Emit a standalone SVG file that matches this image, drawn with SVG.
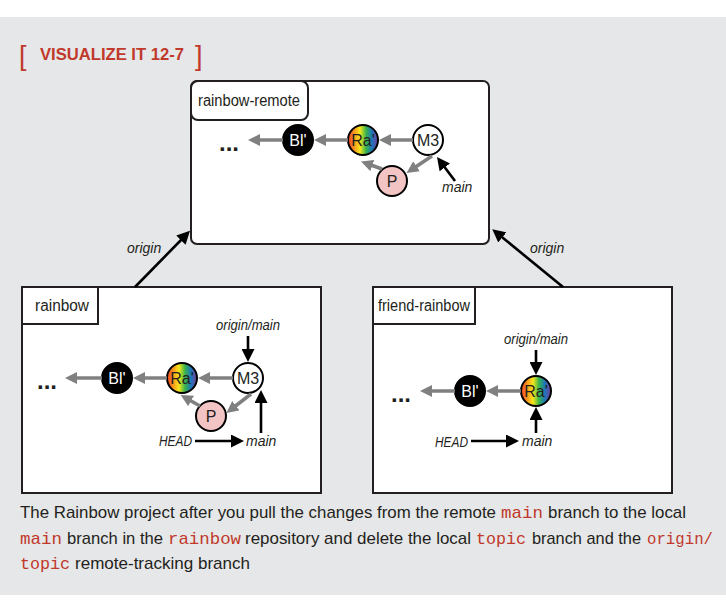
<svg xmlns="http://www.w3.org/2000/svg" width="726" height="602" viewBox="0 0 726 602">
<defs>
<style>
.box{fill:#fff;stroke:#231f20;stroke-width:2}
.lbl{font-family:"Liberation Sans Narrow","Liberation Sans",sans-serif;font-size:16px;fill:#231f20}
.dots{font-family:"Liberation Sans",sans-serif;font-size:24px;font-weight:bold;fill:#231f20}
.ref{font-family:"Liberation Sans Narrow","Liberation Sans",sans-serif;font-size:14px;font-style:italic;fill:#231f20}
.nt{font-family:"Liberation Sans Narrow","Liberation Sans",sans-serif;font-size:16px;text-anchor:middle}
.cap{font-family:"Liberation Sans Narrow","Liberation Sans",sans-serif;font-size:17px;fill:#231f20}
.code{font-family:"Liberation Mono",monospace;font-size:17px;fill:#c0392b}
.g{stroke:#808080;stroke-width:3.5;fill:none;marker-end:url(#ga)}
.b{stroke:#000;stroke-width:2.6;fill:none;marker-end:url(#ba)}
.ring{stroke:#000;stroke-width:2}
</style>
<marker id="ga" markerUnits="userSpaceOnUse" markerWidth="12" markerHeight="12" refX="3" refY="6" orient="auto"><path d="M0,0 L12,6 L0,12 z" fill="#808080"/></marker>
<marker id="ba" markerUnits="userSpaceOnUse" markerWidth="13" markerHeight="13" refX="3" refY="6.5" orient="auto"><path d="M0,0 L13,6.5 L0,13 z" fill="#000"/></marker>
<linearGradient id="rb" x1="0" y1="0" x2="1" y2="0">
<stop offset="0" stop-color="#ee4023"/>
<stop offset="0.2" stop-color="#f7941d"/>
<stop offset="0.4" stop-color="#f6e71b"/>
<stop offset="0.6" stop-color="#39b54a"/>
<stop offset="0.8" stop-color="#1c75bc"/>
<stop offset="1" stop-color="#7c3f98"/>
</linearGradient>
</defs>
<rect x="0" y="0" width="726" height="602" fill="#fff"/>
<rect x="0" y="17" width="726" height="578" fill="#e6e7e8"/>

<g id="title">
<text x="19" y="65" font-family="Liberation Sans,sans-serif" font-size="27" fill="#c0392b">[</text>
<text x="40" y="60" font-family="Liberation Sans,sans-serif" font-size="17" font-weight="bold" fill="#c0392b" textLength="144" lengthAdjust="spacingAndGlyphs">VISUALIZE IT 12-7</text>
<text x="195" y="65" font-family="Liberation Sans,sans-serif" font-size="27" fill="#c0392b">]</text>
</g>

<g id="rainbow-remote">
<rect class="box" x="191" y="81" width="298" height="163" rx="6"/>
<rect class="box" x="191" y="81" width="117" height="39" rx="7"/>
<text class="lbl" x="198" y="106" textLength="102" lengthAdjust="spacingAndGlyphs">rainbow-remote</text>
<text class="dots" x="219" y="151">...</text>
<g id="r-Bl"><circle class="ring" cx="298" cy="140" r="15" fill="#000"/><text class="nt" x="298" y="146" fill="#fff">Bl'</text></g>
<g id="r-Ra"><circle class="ring" cx="363" cy="140" r="15" fill="url(#rb)"/><text class="nt" x="363" y="146" fill="#231f20">Ra'</text></g>
<g id="r-M3"><circle class="ring" cx="428" cy="140" r="15" fill="#fff"/><text class="nt" x="428" y="146" fill="#231f20">M3</text></g>
<g id="r-P"><circle class="ring" cx="392" cy="181" r="15" fill="#f2c4c4"/><text class="nt" x="392" y="187" fill="#231f20">P</text></g>
<text class="ref" x="442" y="192">main</text>
</g>

<g id="rainbow">
<rect class="box" x="22" y="287" width="299" height="206"/>
<rect class="box" x="22" y="287" width="76" height="37"/>
<text class="lbl" x="35" y="311" textLength="54" lengthAdjust="spacingAndGlyphs">rainbow</text>
<text class="dots" x="37" y="389">...</text>
<g id="a-Bl"><circle class="ring" cx="117" cy="378" r="15" fill="#000"/><text class="nt" x="117" y="384" fill="#fff">Bl'</text></g>
<g id="a-Ra"><circle class="ring" cx="182" cy="378" r="15" fill="url(#rb)"/><text class="nt" x="182" y="384" fill="#231f20">Ra'</text></g>
<g id="a-M3"><circle class="ring" cx="248" cy="378" r="15" fill="#fff"/><text class="nt" x="248" y="384" fill="#231f20">M3</text></g>
<g id="a-P"><circle class="ring" cx="211" cy="416" r="15" fill="#f2c4c4"/><text class="nt" x="211" y="422" fill="#231f20">P</text></g>
<text class="ref" x="248" y="330" text-anchor="middle" textLength="64" lengthAdjust="spacingAndGlyphs">origin/main</text>
<text class="ref" x="159" y="446" textLength="33" lengthAdjust="spacingAndGlyphs">HEAD</text>
<text class="ref" x="246" y="446">main</text>
</g>

<g id="friend-rainbow">
<rect class="box" x="373" y="287" width="299" height="206"/>
<rect class="box" x="373" y="287" width="102" height="37"/>
<text class="lbl" x="378" y="311" textLength="92" lengthAdjust="spacingAndGlyphs">friend-rainbow</text>
<text class="dots" x="391" y="402">...</text>
<g id="f-Bl"><circle class="ring" cx="470" cy="391" r="15" fill="#000"/><text class="nt" x="470" y="397" fill="#fff">Bl'</text></g>
<g id="f-Ra"><circle class="ring" cx="536" cy="391" r="15" fill="url(#rb)"/><text class="nt" x="536" y="397" fill="#231f20">Ra'</text></g>
<text class="ref" x="536" y="344" text-anchor="middle" textLength="64" lengthAdjust="spacingAndGlyphs">origin/main</text>
<text class="ref" x="435" y="447" textLength="33" lengthAdjust="spacingAndGlyphs">HEAD</text>
<text class="ref" x="522" y="446">main</text>
</g>

<g id="connectors">
<line class="g" x1="413" y1="140" x2="388" y2="140"/>
<line class="g" x1="348" y1="140" x2="323" y2="140"/>
<line class="g" x1="283" y1="140" x2="257" y2="140"/>
<line class="g" x1="432" y1="156" x2="414" y2="168"/>
<line class="g" x1="382" y1="169" x2="369.5" y2="164.5"/>
<line class="b" x1="455" y1="181" x2="443" y2="165"/>

<line class="g" x1="233" y1="378" x2="207" y2="378"/>
<line class="g" x1="167" y1="378" x2="142" y2="378"/>
<line class="g" x1="102" y1="378" x2="74" y2="378"/>
<line class="g" x1="251" y1="394" x2="233.5" y2="407.5"/>
<line class="g" x1="200" y1="406" x2="188.5" y2="399.5"/>
<line class="b" x1="248" y1="336" x2="248" y2="352"/>
<line class="b" x1="261" y1="433" x2="261" y2="400"/>
<line class="b" x1="195" y1="441" x2="234" y2="441"/>

<line class="g" x1="521" y1="391" x2="495" y2="391"/>
<line class="g" x1="455" y1="391" x2="429" y2="391"/>
<line class="b" x1="536" y1="350" x2="536" y2="365"/>
<line class="b" x1="536" y1="433" x2="536" y2="417"/>
<line class="b" x1="471" y1="441" x2="509" y2="441"/>

<line class="b" x1="135" y1="287" x2="183" y2="238"/>
<line class="b" x1="563" y1="287" x2="500" y2="235.5"/>
<text class="ref" x="127" y="253" font-size="15">origin</text>
<text class="ref" x="530" y="253" font-size="15">origin</text>
</g>

<g id="caption">
<text class="cap" x="20" y="518" textLength="476" lengthAdjust="spacingAndGlyphs">The Rainbow project after you pull the changes from the remote</text>
<text class="code" x="501" y="518" textLength="42" lengthAdjust="spacingAndGlyphs">main</text>
<text class="cap" x="548" y="518" textLength="138" lengthAdjust="spacingAndGlyphs">branch to the local</text>
<text class="code" x="20" y="543.5" textLength="42" lengthAdjust="spacingAndGlyphs">main</text>
<text class="cap" x="67" y="543.5" textLength="96" lengthAdjust="spacingAndGlyphs">branch in the</text>
<text class="code" x="168" y="543.5" textLength="73" lengthAdjust="spacingAndGlyphs">rainbow</text>
<text class="cap" x="245" y="543.5" textLength="226" lengthAdjust="spacingAndGlyphs">repository and delete the local</text>
<text class="code" x="476" y="543.5" textLength="50" lengthAdjust="spacingAndGlyphs">topic</text>
<text class="cap" x="532" y="543.5" textLength="109" lengthAdjust="spacingAndGlyphs">branch and the</text>
<text class="code" x="647" y="543.5" textLength="66" lengthAdjust="spacingAndGlyphs">origin/</text>
<text class="code" x="20" y="569" textLength="50" lengthAdjust="spacingAndGlyphs">topic</text>
<text class="cap" x="75" y="569" textLength="175" lengthAdjust="spacingAndGlyphs">remote-tracking branch</text>
</g>
</svg>
